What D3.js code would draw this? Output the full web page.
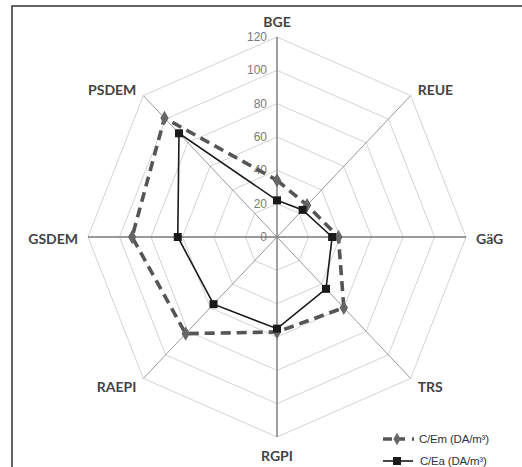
<!DOCTYPE html>
<html>
<head>
<meta charset="utf-8">
<script src="https://cdn.jsdelivr.net/npm/d3@7"></script>
<style>
  body { margin: 0; background: #fff; }
  svg { display: block; }
</style>
</head>
<body>
<div class="chart"></div>
<script>
const w = 522;
const h = 467;

// data
const axes = ['BGE', 'REUE', 'GäG', 'TRS', 'RGPI', 'RAEPI', 'GSDEM', 'PSDEM'];
const cEm = [34, 27, 39, 60, 57, 82, 92, 101];
const cEa = [22, 23, 35, 44, 55, 57, 63, 88];
const ticks = [0, 20, 40, 60, 80, 100, 120];
const seriesNames = ['C/Em (DA/m³)', 'C/Ea (DA/m³)'];

const cx = 277;
const cy = 237;
const kx = 0.945; // picture is a little squeezed horizontally

const svg = d3.select('.chart')
  .append('svg')
  .attr('width', w)
  .attr('height', h);

// frame (right and bottom fall outside the crop)
svg.append('rect')
  .attr('x', 12).attr('y', 6)
  .attr('width', 540).attr('height', 500)
  .attr('fill', 'none')
  .attr('stroke', '#333')
  .attr('stroke-width', 1.5);

const rScale = d3.scaleLinear().domain([0, 120]).range([0, 200]);
const angle = d3.scalePoint().domain(axes).range([0, 2 * Math.PI * 7 / 8]);

function px(name, v) {
  return cx + rScale(v) * Math.sin(angle(name)) * kx;
}
function py(name, v) {
  return cy - rScale(v) * Math.cos(angle(name));
}

const ring = d3.line()
  .x((d) => d[0])
  .y((d) => d[1])
  .curve(d3.curveLinearClosed);

// grid rings
svg.append('g')
  .selectAll('path')
  .data(ticks.slice(1))
  .enter()
  .append('path')
  .attr('d', (t) => ring(axes.map((a) => [px(a, t), py(a, t)])))
  .attr('fill', 'none')
  .attr('stroke', '#d4d4d4')
  .attr('stroke-width', 1);

// spokes
svg.append('g')
  .selectAll('line')
  .data(axes)
  .enter()
  .append('line')
  .attr('x1', cx).attr('y1', cy)
  .attr('x2', (a) => px(a, 120))
  .attr('y2', (a) => py(a, 120))
  .attr('stroke', (a, i) => (i % 2 === 0 ? '#777' : '#999'))
  .attr('stroke-width', (a, i) => (i % 2 === 0 ? 1.4 : 1));

// tick labels on the BGE axis
svg.append('g')
  .selectAll('text')
  .data(ticks)
  .enter()
  .append('text')
  .attr('x', cx - 10)
  .attr('y', (t) => py(axes[0], t))
  .attr('text-anchor', 'end')
  .attr('dominant-baseline', 'central')
  .attr('font-family', 'Liberation Sans, Arial, sans-serif')
  .attr('font-size', 12)
  .attr('fill', '#7a7a7a')
  .text((t) => t);

// axis labels
svg.append('g')
  .selectAll('text')
  .data(axes)
  .enter()
  .append('text')
  .attr('x', (a) => {
    const s = Math.round(Math.sin(angle(a)) * 100) / 100;
    const off = Math.abs(s) > 0.9 ? 10 : 7;
    return px(a, 120) + Math.sign(s) * off;
  })
  .attr('y', (a) => {
    const c = Math.round(Math.cos(angle(a)) * 100) / 100;
    const off = Math.abs(c) > 0.9 ? 17 : 7;
    return py(a, 120) - Math.sign(c) * off + 1;
  })
  .attr('text-anchor', (a) => {
    const s = Math.round(Math.sin(angle(a)) * 100) / 100;
    return s > 0 ? 'start' : s < 0 ? 'end' : 'middle';
  })
  .attr('dominant-baseline', 'central')
  .attr('font-family', 'Lato, sans-serif')
  .attr('font-weight', 'bold')
  .attr('font-size', 14)
  .attr('fill', '#444')
  .text((a) => a);

// series
const emPts = axes.map((a, i) => [px(a, cEm[i]), py(a, cEm[i])]);
const eaPts = axes.map((a, i) => [px(a, cEa[i]), py(a, cEa[i])]);

svg.append('path')
  .attr('d', ring(emPts))
  .attr('fill', 'none')
  .attr('stroke', '#555')
  .attr('stroke-width', 3.6)
  .attr('stroke-dasharray', '10,6');

svg.append('g')
  .selectAll('path')
  .data(emPts)
  .enter()
  .append('path')
  .attr('d', d3.symbol().type(d3.symbolDiamond).size(60))
  .attr('transform', (d) => `translate(${d[0]},${d[1]})`)
  .attr('fill', '#666');

svg.append('path')
  .attr('d', ring(eaPts))
  .attr('fill', 'none')
  .attr('stroke', '#1a1a1a')
  .attr('stroke-width', 1.6);

svg.append('g')
  .selectAll('rect')
  .data(eaPts)
  .enter()
  .append('rect')
  .attr('x', (d) => d[0] - 4)
  .attr('y', (d) => d[1] - 4)
  .attr('width', 8)
  .attr('height', 8)
  .attr('fill', '#1a1a1a');

// legend
const legend = svg.append('g').attr('transform', 'translate(383,439)');

legend.append('line')
  .attr('x1', 0).attr('x2', 32).attr('y1', 0).attr('y2', 0)
  .attr('stroke', '#555')
  .attr('stroke-width', 3.6)
  .attr('stroke-dasharray', '9,4,9,7,2');
legend.append('path')
  .attr('d', d3.symbol().type(d3.symbolDiamond).size(45))
  .attr('transform', 'translate(14,0)')
  .attr('fill', '#666');

legend.append('line')
  .attr('x1', 0).attr('x2', 30).attr('y1', 22).attr('y2', 22)
  .attr('stroke', '#1a1a1a')
  .attr('stroke-width', 1.6);
legend.append('rect')
  .attr('x', 10).attr('y', 18).attr('width', 8).attr('height', 8)
  .attr('fill', '#1a1a1a');

legend.selectAll('text')
  .data(seriesNames)
  .enter()
  .append('text')
  .attr('x', (d, i) => (i === 0 ? 36 : 37))
  .attr('y', (d, i) => i * 22)
  .attr('dominant-baseline', 'central')
  .attr('font-family', 'Liberation Sans, Arial, sans-serif')
  .attr('font-size', 11.5)
  .attr('letter-spacing', '-0.2')
  .attr('fill', '#333')
  .text((d) => d);
</script>
</body>
</html>
